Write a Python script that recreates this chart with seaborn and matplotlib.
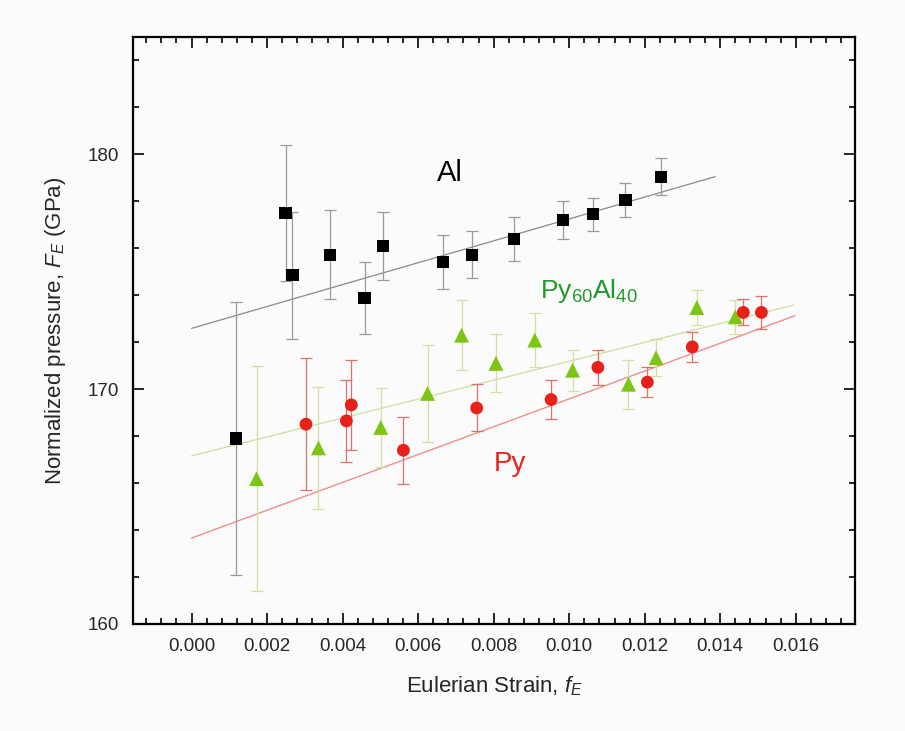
import numpy as np
import pandas as pd
import matplotlib
matplotlib.use("Agg")
import matplotlib.pyplot as plt
from matplotlib.ticker import MultipleLocator, FixedLocator
import seaborn as sns

# ---- data ----
al_x = [0.00117, 0.00249, 0.00267, 0.00366, 0.00458, 0.00506, 0.00665, 0.00743, 0.00854, 0.00984, 0.01063, 0.01149, 0.01244]
al_y = [167.9, 177.5, 174.85, 175.73, 173.88, 176.11, 175.43, 175.73, 176.4, 177.2, 177.45, 178.07, 179.05]
al_err = [5.8, 2.9, 2.7, 1.9, 1.55, 1.45, 1.15, 1.0, 0.95, 0.8, 0.7, 0.72, 0.78]

py_x = [0.00303, 0.00410, 0.00423, 0.00561, 0.00755, 0.00952, 0.01076, 0.01207, 0.01326, 0.01461, 0.01509]
py_y = [168.51, 168.65, 169.33, 167.40, 169.20, 169.56, 170.93, 170.30, 171.80, 173.27, 173.27]
py_err = [2.8, 1.75, 1.9, 1.42, 1.0, 0.82, 0.75, 0.63, 0.63, 0.55, 0.7]

pa_x = [0.00172, 0.00336, 0.00501, 0.00625, 0.00715, 0.00806, 0.00909, 0.01009, 0.01157, 0.01230, 0.01338, 0.01440]
pa_y = [166.19, 167.50, 168.37, 169.82, 172.30, 171.10, 172.09, 170.81, 170.21, 171.34, 173.48, 173.08]
pa_err = [4.8, 2.6, 1.7, 2.05, 1.5, 1.24, 1.15, 0.87, 1.05, 0.78, 0.73, 0.73]

# linear fits (endpoints)
al_fit_x = [0.0, 0.01386]
al_fit_y = [172.59, 179.05]
py_fit_x = [0.0, 0.01598]
py_fit_y = [163.66, 173.13]
pa_fit_x = [0.0, 0.01594]
pa_fit_y = [167.16, 173.58]

x_ticks = [0.000, 0.002, 0.004, 0.006, 0.008, 0.010, 0.012, 0.014, 0.016]
y_ticks = [160, 170, 180]

# ---- style ----
sns.set_style("white")
plt.rcParams["font.family"] = ["Liberation Sans", "DejaVu Sans"]
plt.rcParams["mathtext.fontset"] = "custom"
plt.rcParams["mathtext.it"] = "Liberation Sans:italic"
plt.rcParams["mathtext.rm"] = "Liberation Sans"

fig = plt.figure(figsize=(9.05, 7.31), dpi=100, facecolor="#fbfbfb")
ax = fig.add_axes([0.147, 0.1464, 0.7978, 0.803])
ax.set_facecolor("#fbfbfb")

BLACK = "#000000"
RED = "#e8201a"
GREEN = "#7cc514"

# fit lines
sns.lineplot(x=al_fit_x, y=al_fit_y, ax=ax, color="#8a8a8a", linewidth=0.9)
sns.lineplot(x=py_fit_x, y=py_fit_y, ax=ax, color="#ee8f8a", linewidth=1.0)
sns.lineplot(x=pa_fit_x, y=pa_fit_y, ax=ax, color="#cfe3a0", linewidth=1.0)

# error bars
ax.errorbar(al_x, al_y, yerr=al_err, fmt="none", ecolor="#9a9a9a", elinewidth=0.9, capsize=4, capthick=0.9, zorder=2)
ax.errorbar(pa_x, pa_y, yerr=pa_err, fmt="none", ecolor="#cfe2a0", elinewidth=0.9, capsize=4, capthick=0.9, zorder=2)
ax.errorbar(py_x, py_y, yerr=py_err, fmt="none", ecolor="#e26f6a", elinewidth=0.9, capsize=4, capthick=0.9, zorder=2)

# markers
sns.scatterplot(x=al_x, y=al_y, ax=ax, marker="s", s=78, color=BLACK, edgecolor="none", zorder=3)
sns.scatterplot(x=pa_x, y=pa_y, ax=ax, marker="^", s=115, color=GREEN, edgecolor="none", zorder=3)
sns.scatterplot(x=py_x, y=py_y, ax=ax, marker="o", s=85, color=RED, edgecolor="none", zorder=3)

# labels
ax.text(0.00684, 179.2, "Al", fontsize=21, color="black", ha="center", va="center")
ax.text(0.01052, 174.2, "Py$_{60}$Al$_{40}$", fontsize=19, color="#1f9a2a", ha="center", va="center")
ax.text(0.00843, 166.8, "Py", fontsize=20, color=RED, ha="center", va="center")

# axes
ax.set_xlim(-0.00155, 0.01757)
ax.set_ylim(160, 185)
ax.xaxis.set_major_locator(FixedLocator(x_ticks))
ax.set_xticklabels([f"{t:.3f}" for t in x_ticks])
ax.xaxis.set_minor_locator(MultipleLocator(0.0004))
ax.yaxis.set_major_locator(FixedLocator(y_ticks))
ax.set_yticklabels([str(t) for t in y_ticks])
ax.yaxis.set_minor_locator(MultipleLocator(2))

ax.tick_params(which="both", direction="in", top=True, right=True, bottom=True, left=True,
               color="black", labelsize=13.5, width=1.2)
ax.tick_params(which="major", length=8, pad=10)
ax.tick_params(which="minor", length=4)
for sp in ax.spines.values():
    sp.set_visible(True)
    sp.set_color("black")
    sp.set_linewidth(1.6)

ax.set_xlabel("Eulerian Strain, $f_E$", fontsize=16, labelpad=14)
ax.set_ylabel("Normalized pressure, $F_E$ (GPa)", fontsize=16, labelpad=14)

fig.savefig("out.png", dpi=100, facecolor=fig.get_facecolor())
